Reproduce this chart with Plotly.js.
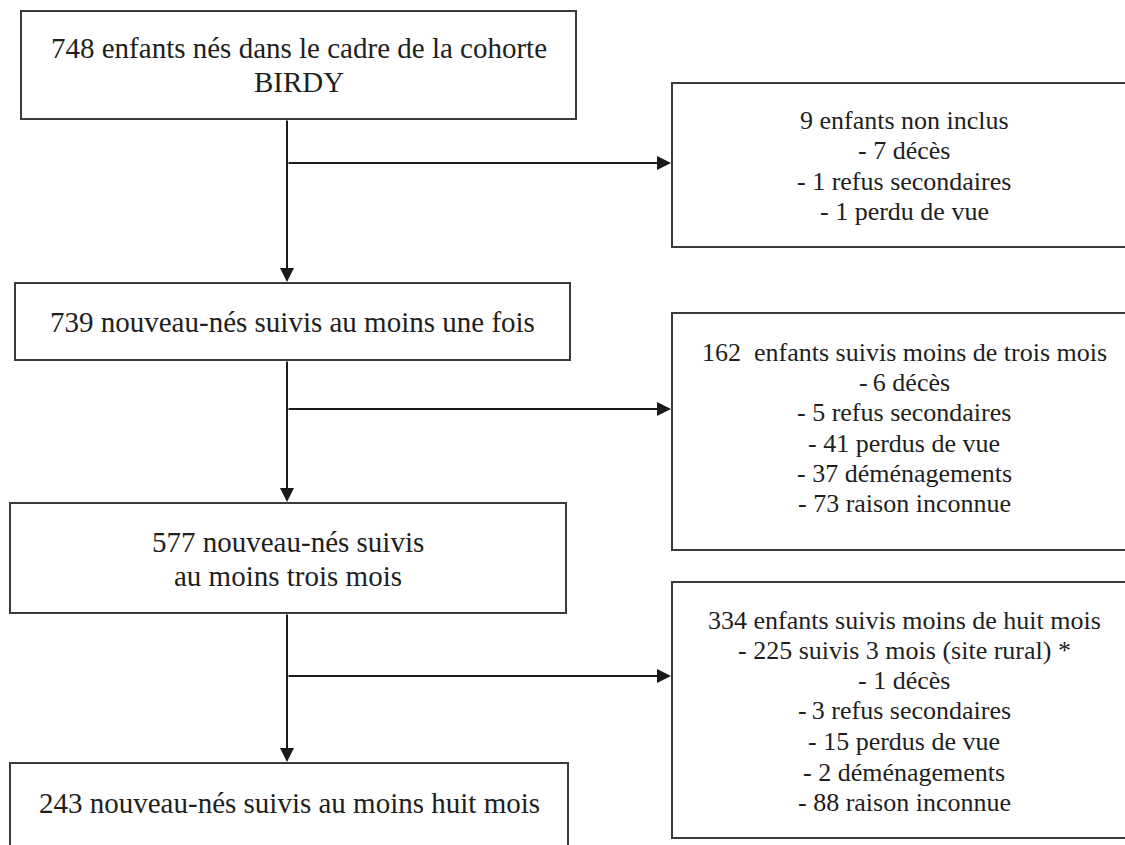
<!DOCTYPE html>
<html>
<head>
<meta charset="utf-8">
<script src="https://cdn.plot.ly/plotly-3.0.1.min.js"></script>
<style>html,body{margin:0;padding:0;background:#fff;}#chart{width:1125px;height:845px;}</style>
</head>
<body>
<div id="chart"></div>
<script>
// ---- Data ----
const mainCounts = [748, 739, 577, 243];
const mainLines = [
  ["{n} enfants nés dans le cadre de la cohorte", "BIRDY"],
  ["{n} nouveau-nés suivis au moins une fois"],
  ["{n} nouveau-nés suivis", "au moins trois mois"],
  ["{n} nouveau-nés suivis au moins huit mois"]
];
const exclCounts = [9, 162, 334];
const exclTitles = ["{n} enfants non inclus", "{n}  enfants suivis moins de trois mois", "{n} enfants suivis moins de huit mois"];
const exclReasons1 = ["décès", "refus secondaires", "perdu de vue"];
const exclValues1 = [7, 1, 1];
const exclReasons2 = ["décès", "refus secondaires", "perdus de vue", "déménagements", "raison inconnue"];
const exclValues2 = [6, 5, 41, 37, 73];
const exclReasons3 = ["suivis 3 mois (site rural) *", "décès", "refus secondaires", "perdus de vue", "déménagements", "raison inconnue"];
const exclValues3 = [225, 1, 3, 15, 2, 88];
// dash separators as printed (some entries use a tight dash)
const exclDash2 = ["-\u2009", "- ", "- ", "- ", "- "];
const exclDash3 = ["- ", "- ", "-\u2009", "- ", "- ", "- "];
const exclDash1 = ["- ", "- ", "- "];

// ---- Layout geometry (pixels) ----
const mainBoxes = [
  {x0: 21, x1: 576, y0: 11, y1: 119, lines: [48, 82]},
  {x0: 15, x1: 570, y0: 283, y1: 360, lines: [322]},
  {x0: 10, x1: 566, y0: 503, y1: 613, lines: [542, 576]},
  {x0: 10, x1: 568, y0: 763, y1: 860, lines: [803]}
];
const exclBoxes = [
  {x0: 672, x1: 1140, y0: 83, y1: 247, lines: [120, 150, 181, 211], branch: 163},
  {x0: 672, x1: 1140, y0: 313, y1: 550, lines: [352, 382, 412, 443, 473, 503], branch: 409},
  {x0: 672, x1: 1140, y0: 582, y1: 838, lines: [620, 650, 680, 710, 741, 772, 802], branch: 676}
];
const spineX = 287;
const exclCenterX = 904;

const exclReasonSets = [[exclValues1, exclReasons1, exclDash1], [exclValues2, exclReasons2, exclDash2], [exclValues3, exclReasons3, exclDash3]];

const lineColor = "#1a1a1a";
const boxColor = "#3a3a3a";
const txtColor = "#1e1e1e";
const fontFam = "'Liberation Serif', 'Times New Roman', serif";

const shapes = [];
const annotations = [];

mainBoxes.forEach((b, i) => {
  shapes.push({type: "rect", xref: "x", yref: "y", x0: b.x0, x1: b.x1, y0: b.y0, y1: b.y1,
    line: {color: boxColor, width: 2}, fillcolor: "rgba(0,0,0,0)"});
  mainLines[i].forEach((t, k) => {
    annotations.push({x: (b.x0 + b.x1) / 2, y: b.lines[k], xref: "x", yref: "y",
      text: t.replace("{n}", mainCounts[i]), showarrow: false, xanchor: "center", yanchor: "middle",
      font: {family: fontFam, size: 29, color: txtColor}});
  });
});

exclBoxes.forEach((b, i) => {
  shapes.push({type: "rect", xref: "x", yref: "y", x0: b.x0, x1: b.x1, y0: b.y0, y1: b.y1,
    line: {color: boxColor, width: 2}, fillcolor: "rgba(0,0,0,0)"});
  const texts = [exclTitles[i].replace("{n}", exclCounts[i])];
  const [vals, reasons, dashes] = exclReasonSets[i];
  vals.forEach((v, k) => texts.push(dashes[k] + v + " " + reasons[k]));
  texts.forEach((t, k) => {
    annotations.push({x: exclCenterX, y: b.lines[k], xref: "x", yref: "y",
      text: t, showarrow: false, xanchor: "center", yanchor: "middle",
      font: {family: fontFam, size: 26, color: txtColor}});
  });
  annotations.push({x: b.x0 - 1, y: b.branch, ax: spineX, ay: b.branch, xref: "x", yref: "y",
    axref: "x", ayref: "y", text: "", showarrow: true, arrowhead: 2, arrowsize: 1.4,
    arrowwidth: 2, arrowcolor: lineColor, standoff: 0, startstandoff: 0});
});

for (let i = 0; i < mainBoxes.length - 1; i++) {
  annotations.push({x: spineX, y: mainBoxes[i + 1].y0 - 1, ax: spineX, ay: mainBoxes[i].y1,
    xref: "x", yref: "y", axref: "x", ayref: "y", text: "", showarrow: true, arrowhead: 2,
    arrowsize: 1.4, arrowwidth: 2, arrowcolor: lineColor, standoff: 0, startstandoff: 0});
}

const layout = {
  width: 1125, height: 845,
  margin: {l: 0, r: 0, t: 0, b: 0},
  paper_bgcolor: "#ffffff", plot_bgcolor: "#ffffff",
  xaxis: {range: [0, 1125], visible: false, fixedrange: true},
  yaxis: {range: [845, 0], visible: false, fixedrange: true},
  showlegend: false,
  shapes: shapes,
  annotations: annotations
};

Plotly.newPlot("chart", [], layout, {staticPlot: true, displayModeBar: false});
</script>
</body>
</html>
